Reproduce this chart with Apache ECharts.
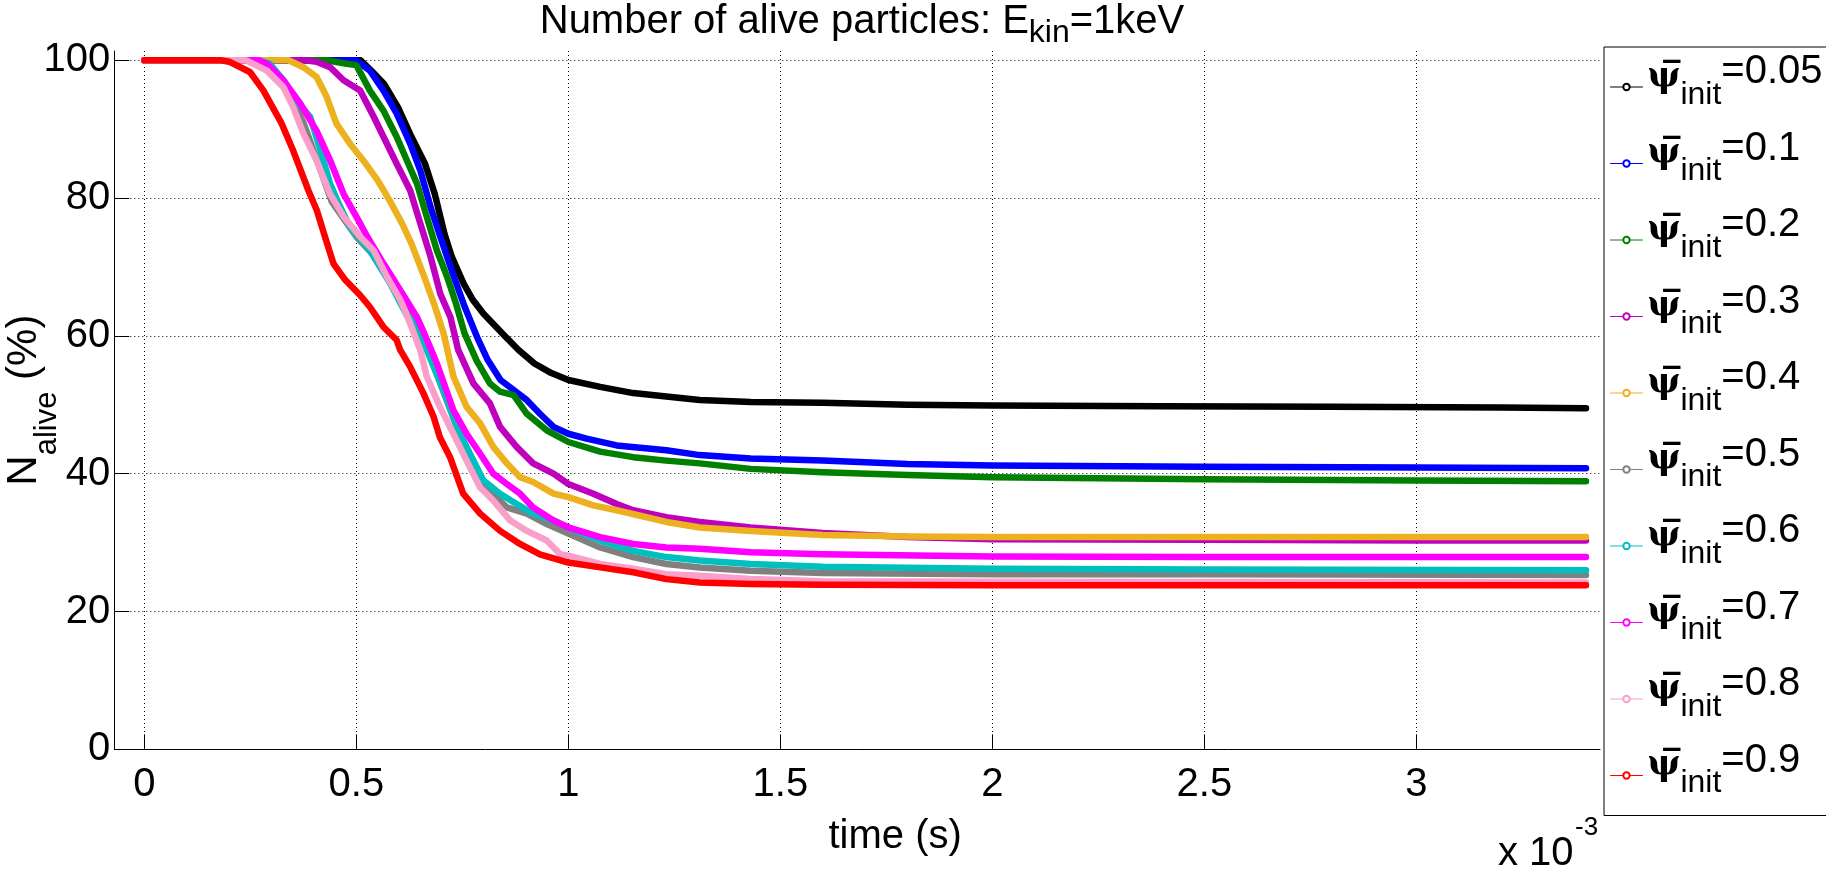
<!DOCTYPE html>
<html>
<head>
<meta charset="utf-8">
<script src="https://cdn.jsdelivr.net/npm/echarts@6.0.0/dist/echarts.min.js"></script>
<style>
html, body { margin: 0; padding: 0; background: #fff; }
#chart { width: 1826px; height: 873px; }
</style>
</head>
<body>
<div id="chart"></div>
<script>
// time in units of 1e-3 s, N_alive in %
const xTicks = [0, 0.5, 1, 1.5, 2, 2.5, 3];
const yTicks = [0, 20, 40, 60, 80, 100];
const psiLabels = ['0.05', '0.1', '0.2', '0.3', '0.4', '0.5', '0.6', '0.7', '0.8', '0.9'];
const lineColors = ['#000000', '#0000ff', '#008000', '#bf00bf', '#edb120', '#808080', '#00bfbf', '#ff00ff', '#f99fc9', '#ff0000'];

const psi005 = [[0,100],[0.51,100],[0.535,98.5],[0.565,96.6],[0.598,93.2],[0.63,88.9],[0.662,85],[0.685,80.6],[0.708,74.8],[0.725,71.5],[0.753,67.6],[0.775,65.2],[0.8,63.2],[0.845,60.3],[0.882,58],[0.92,56],[0.96,54.6],[1.0,53.6],[1.075,52.6],[1.153,51.7],[1.231,51.2],[1.31,50.7],[1.43,50.4],[1.6,50.3],[1.8,50.0],[2.0,49.9],[2.4,49.8],[2.8,49.7],[3.2,49.6],[3.4,49.5]];
const psi01 = [[0,100],[0.50,100],[0.532,98.5],[0.564,95.6],[0.595,92.3],[0.627,87.9],[0.651,84],[0.675,78.7],[0.698,74.4],[0.73,68.6],[0.755,64.3],[0.785,59.8],[0.81,56.5],[0.84,53.6],[0.9,50.8],[0.933,48.7],[0.965,46.8],[1.0,45.8],[1.043,45.1],[1.114,44.1],[1.231,43.4],[1.31,42.7],[1.43,42.2],[1.6,41.9],[1.8,41.4],[2.0,41.2],[2.5,41.0],[3.0,40.9],[3.4,40.8]];
const psi02 = [[0,100],[0.43,100],[0.477,99.5],[0.5,99.3],[0.532,95.6],[0.564,92.7],[0.595,88.9],[0.619,85.5],[0.643,82.1],[0.666,77.3],[0.69,72.4],[0.714,68.6],[0.735,64.7],[0.755,60.4],[0.783,56.5],[0.815,53.1],[0.839,51.9],[0.871,51.4],[0.902,48.7],[0.949,46.3],[1.0,44.6],[1.075,43.2],[1.153,42.4],[1.231,41.9],[1.31,41.5],[1.43,40.7],[1.6,40.2],[1.8,39.8],[2.0,39.5],[2.5,39.2],[3.0,39.0],[3.4,38.9]];
const psi03 = [[0,100],[0.38,100],[0.406,99.8],[0.438,99],[0.47,97.1],[0.509,95.6],[0.541,91.8],[0.564,88.9],[0.595,85],[0.627,81.1],[0.651,76.3],[0.675,71.5],[0.698,66.1],[0.722,62.7],[0.74,58],[0.776,53.1],[0.815,50.2],[0.839,46.8],[0.878,43.9],[0.917,41.5],[0.965,40],[1.0,38.5],[1.059,37.1],[1.114,35.6],[1.153,34.7],[1.231,33.7],[1.31,33],[1.43,32.2],[1.6,31.4],[1.8,30.8],[2.0,30.5],[2.5,30.4],[3.0,30.3],[3.4,30.3]];
const psi04 = [[0,100],[0.34,100],[0.375,99],[0.406,97.6],[0.43,94.7],[0.453,90.8],[0.485,87.9],[0.516,85.5],[0.55,82.6],[0.578,79.7],[0.608,76.3],[0.63,73.4],[0.66,68.6],[0.683,64.7],[0.706,60.3],[0.729,54.1],[0.76,49.7],[0.792,47.3],[0.823,43.9],[0.855,41.5],[0.886,39.5],[0.917,38.8],[0.965,37.1],[1.0,36.6],[1.059,35.4],[1.114,34.7],[1.231,33],[1.31,32.2],[1.43,31.7],[1.6,31.1],[1.8,30.9],[2.0,30.8],[3.0,30.8],[3.4,30.8]];
const psi05 = [[0,100],[0.26,100],[0.3,98.5],[0.34,95.5],[0.375,91],[0.41,85],[0.442,79.5],[0.47,77],[0.5,74.4],[0.532,72.3],[0.564,70],[0.6,66.5],[0.64,62],[0.675,57],[0.705,52],[0.737,46.8],[0.768,42.5],[0.8,38.5],[0.855,35.1],[0.902,34.2],[0.949,32.7],[1.0,31.3],[1.075,29.3],[1.153,27.9],[1.231,26.9],[1.31,26.4],[1.43,25.9],[1.6,25.6],[2.0,25.4],[2.5,25.4],[3.4,25.3]];
const psi06 = [[0,100],[0.27,100],[0.296,99.5],[0.33,97],[0.36,94],[0.391,91.8],[0.42,86],[0.438,82.1],[0.46,79],[0.485,75.8],[0.532,72.4],[0.58,67.6],[0.619,63],[0.643,61.5],[0.666,58],[0.705,52.1],[0.737,46.8],[0.768,42.9],[0.8,39],[0.839,37.1],[0.878,35.6],[0.917,34.2],[0.965,33.2],[1.0,32.2],[1.075,30.3],[1.153,28.8],[1.231,27.9],[1.31,27.4],[1.43,26.9],[1.6,26.5],[2.0,26.2],[2.5,26.1],[3.4,26.0]];
const psi07 = [[0,100],[0.27,100],[0.289,99.5],[0.328,97.1],[0.368,93.7],[0.406,89.8],[0.438,85.5],[0.47,80.6],[0.5,77.3],[0.524,74.6],[0.564,70.5],[0.604,66.6],[0.643,62.7],[0.66,60.4],[0.69,56],[0.729,49.2],[0.76,45.8],[0.792,42.9],[0.823,40],[0.855,38.5],[0.886,37.1],[0.917,35.1],[0.965,33.2],[1.0,32.2],[1.075,30.8],[1.153,29.8],[1.231,29.3],[1.31,29.1],[1.43,28.6],[1.6,28.3],[2.0,28.0],[2.5,27.9],[3.4,27.9]];
const psi08 = [[0,100],[0.24,100],[0.289,98.5],[0.328,96.1],[0.351,93.2],[0.375,89.4],[0.406,85.5],[0.438,80.6],[0.47,77.3],[0.509,74.4],[0.541,72.4],[0.572,68.6],[0.604,65.2],[0.627,61.8],[0.651,57.9],[0.666,54.1],[0.697,49.7],[0.729,45.8],[0.76,41.9],[0.792,38],[0.823,36.1],[0.863,33.2],[0.902,31.7],[0.949,30.3],[0.981,28.3],[1.0,28.1],[1.075,26.9],[1.153,26.2],[1.231,25.4],[1.31,25.2],[1.43,24.7],[1.6,24.4],[2.0,24.3],[3.4,24.2]];
const psi09 = [[0,100],[0.18,100],[0.2,99.8],[0.249,98.3],[0.281,95.6],[0.324,90.8],[0.351,86.9],[0.387,81.1],[0.407,78.2],[0.426,74.4],[0.446,70.5],[0.474,68.1],[0.509,65.9],[0.532,64.2],[0.564,61.3],[0.595,59.4],[0.603,58],[0.627,55.5],[0.658,51.7],[0.682,48.3],[0.697,45.3],[0.721,42.4],[0.752,37.1],[0.792,34.2],[0.839,31.7],[0.886,29.8],[0.933,28.3],[1.0,27.1],[1.075,26.4],[1.153,25.7],[1.231,24.7],[1.31,24.2],[1.43,24.0],[1.6,23.9],[2.0,23.8],[3.4,23.8]];

const curves = [psi005, psi01, psi02, psi03, psi04, psi05, psi06, psi07, psi08, psi09];

const font = 'Liberation Sans';
const series = curves.map((d, i) => ({
  name: psiLabels[i],
  type: 'line',
  data: d,
  symbol: 'emptyCircle',
  showSymbol: false,
  color: lineColors[i],
  lineStyle: { width: 6.5, color: lineColors[i], cap: 'round', join: 'round' },
  emphasis: { disabled: true },
  z: 2 + i
}));

const option = {
  animation: false,
  backgroundColor: '#fff',
  title: {
    text: '{a|Number of alive particles: E}{b|kin}{a|=1keV}',
    left: 862,
    top: 2,
    textAlign: 'center',
    padding: 0,
    textStyle: {
      fontWeight: 'normal',
      lineHeight: 50,
      rich: {
        a: { fontFamily: font, fontSize: 40, fontWeight: 'normal', color: '#000', verticalAlign: 'top', lineHeight: 50 },
        b: { fontFamily: font, fontSize: 32, fontWeight: 'normal', color: '#000', verticalAlign: 'top', padding: [15, 0, 0, 0], lineHeight: 50 }
      }
    }
  },
  grid: { left: 114.3, right: 226, top: 51, bottom: 123.7, containLabel: false, outerBoundsMode: 'none' },
  legend: {
    orient: 'vertical',
    left: 1604,
    top: 47,
    padding: [5, 8, 5, 6],
    itemGap: 6.5,
    itemWidth: 32,
    itemHeight: 8,
    borderColor: '#000',
    borderWidth: 1,
    selectedMode: false,
    data: psiLabels,
    lineStyle: { width: 1 },
    formatter: name => '{p|\u03c8\u0305}{s|init}{v|=' + name + '}',
    textStyle: {
      lineHeight: 70,
      rich: {
        p: { fontFamily: 'DejaVu Serif', fontSize: 35, fontWeight: 'bold', color: '#000', verticalAlign: 'top', padding: [8, 0, 0, 0], lineHeight: 70 },
        s: { fontFamily: font, fontSize: 32, color: '#000', verticalAlign: 'top', padding: [27, 0, 0, 0], lineHeight: 70 },
        v: { fontFamily: font, fontSize: 40, color: '#000', verticalAlign: 'top', lineHeight: 70 }
      }
    }
  },
  xAxis: {
    type: 'value',
    min: -0.0708,
    max: 3.433,
    name: 'time (s)',
    nameLocation: 'middle',
    nameGap: 68,
    nameMoveOverlap: false,
    nameTextStyle: { fontFamily: font, fontSize: 40, color: '#000', padding: [0, 0, 0, 76] },
    axisLine: { show: true, onZero: false, lineStyle: { color: '#000', width: 1 } },
    axisTick: { show: true, inside: true, length: 15, customValues: xTicks, lineStyle: { color: '#000', width: 1 } },
    axisLabel: { show: true, customValues: xTicks, margin: 16, fontFamily: font, fontSize: 40, color: '#000', formatter: v => String(v) },
    splitLine: { show: true, lineStyle: { color: '#000', width: 1, type: [1, 3] } }
  },
  yAxis: {
    type: 'value',
    min: 0,
    max: 101.35,
    name: '{n|N}{s|alive}{n| (%)}',
    nameLocation: 'middle',
    nameGap: 51,
    nameMoveOverlap: false,
    nameTextStyle: {
      lineHeight: 60,
      rich: {
        n: { fontFamily: font, fontSize: 42, color: '#000', verticalAlign: 'top', lineHeight: 60 },
        s: { fontFamily: font, fontSize: 31, color: '#000', verticalAlign: 'top', padding: [29, 0, 0, 0], lineHeight: 60 }
      }
    },
    axisLine: { show: true, onZero: false, lineStyle: { color: '#000', width: 1 } },
    axisTick: { show: true, inside: true, length: 15, customValues: yTicks, lineStyle: { color: '#000', width: 1 } },
    axisLabel: { show: true, customValues: yTicks, margin: 4, padding: [6, 0, 0, 0], fontFamily: font, fontSize: 40, color: '#000' },
    splitLine: { show: true, lineStyle: { color: '#000', width: 1, type: [1, 3] } }
  },
  graphic: [
    { type: 'text', left: 1498, top: 834, silent: true, style: { text: 'x 10', font: '40px "Liberation Sans"', fill: '#000' } },
    { type: 'text', left: 1575, top: 815, silent: true, style: { text: '-3', font: '26px "Liberation Sans"', fill: '#000' } }
  ],
  series: series
};

const chart = echarts.init(document.getElementById('chart'), null, { renderer: 'canvas' });
chart.setOption(option);
</script>
</body>
</html>
